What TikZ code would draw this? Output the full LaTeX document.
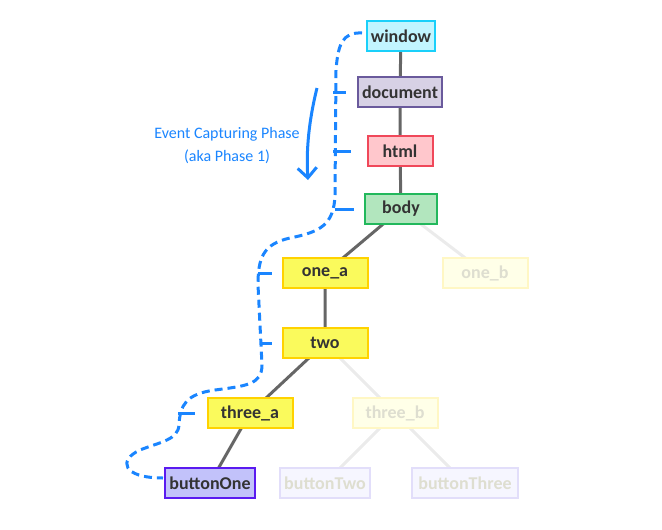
\documentclass[tikz,border=0pt]{standalone}
\usepackage{fontspec}
\setmainfont{Carlito}
\usetikzlibrary{arrows.meta, backgrounds}

\definecolor{edgegray}{HTML}{666666}
\definecolor{fadegray}{HTML}{EBEBEB}
\definecolor{phaseblue}{HTML}{1A85FF}
\definecolor{inkgray}{HTML}{333333}
\definecolor{winfill}{HTML}{C2F5FF}
\definecolor{windraw}{HTML}{1AD0FA}
\definecolor{docfill}{HTML}{D7D1E5}
\definecolor{docdraw}{HTML}{6A5A9C}
\definecolor{htmlfill}{HTML}{FFC7CC}
\definecolor{htmldraw}{HTML}{F0485A}
\definecolor{bodyfill}{HTML}{B2E6BE}
\definecolor{bodydraw}{HTML}{22B85C}
\definecolor{yelfill}{HTML}{FAFA5C}
\definecolor{yeldraw}{HTML}{FFD200}
\definecolor{btnfill}{HTML}{C2C2FA}
\definecolor{btndraw}{HTML}{5A1AF0}
\definecolor{fadeyelfill}{HTML}{FFFFE8}
\definecolor{fadeyeldraw}{HTML}{FFF7C4}
\definecolor{fadebtnfill}{HTML}{F6F6FF}
\definecolor{fadebtndraw}{HTML}{E2DEFA}
\definecolor{fadetext}{HTML}{DEDED0}

\tikzset{
    elem/.style={rectangle, line width=2pt, minimum height=30pt, inner xsep=4pt,
        font=\fontsize{18}{18}\selectfont\bfseries, text=inkgray},
    lowelem/.style={elem, minimum width=85pt},
    link/.style={edgegray, line width=3pt},
    fadelink/.style={fadegray, line width=3pt},
    phase/.style={phaseblue, line width=3pt, dash pattern=on 8pt off 5pt},
    tick/.style={phaseblue, line width=3pt},
}

\begin{document}
\begin{tikzpicture}[x=1pt, y=-1pt]

            \useasboundingbox (0,0) rectangle (662,530);

            % the tree
            \node[elem, fill=winfill, draw=windraw] (window) at (401,36) {window};
            \node[elem, fill=docfill, draw=docdraw] (document) at (400,92) {document};
            \node[elem, fill=htmlfill, draw=htmldraw, minimum width=65pt] (html) at (400,151) {html};
            \node[elem, fill=bodyfill, draw=bodydraw, minimum width=72pt] (body) at (401,209) {body};
            \node[lowelem, fill=yelfill, draw=yeldraw] (onea) at (325,273) {one\_a};
            \node[lowelem, fill=fadeyelfill, draw=fadeyeldraw, text=fadetext] (oneb) at (485,273) {one\_b};
            \node[lowelem, fill=yelfill, draw=yeldraw] (two) at (325,343) {two};
            \node[lowelem, fill=yelfill, draw=yeldraw] (threea) at (250,413) {three\_a};
            \node[lowelem, fill=fadeyelfill, draw=fadeyeldraw, text=fadetext] (threeb) at (395,413) {three\_b};
            \node[lowelem, fill=btnfill, draw=btndraw] (btnone) at (210,483) {buttonOne};
            \node[lowelem, fill=fadebtnfill, draw=fadebtndraw, text=fadetext] (btntwo) at (325,483) {buttonTwo};
            \node[lowelem, fill=fadebtnfill, draw=fadebtndraw, text=fadetext, minimum width=106pt] (btnthree) at (465,483) {buttonThree};

            % edges, drawn under the boxes
            \begin{scope}[on background layer]
                \draw[link] (window.center) -- (document.center) -- (html.center) -- (body.center)
                    -- (onea.center) -- (two.center) -- (threea.center) -- (btnone.center);
                \draw[fadelink] (body.center) -- (oneb.center);
                \draw[fadelink] (two.center) -- (threeb.center);
                \foreach \leaf in {btntwo, btnthree}
                {
                    \draw[fadelink] (threeb.center) -- (\leaf.center);
                }
            \end{scope}

            % capturing path
            \draw[phase] (362,33) .. controls (342,32) and (338,45) .. (336,70)
                -- (335,195)
                .. controls (334,225) and (320,232) .. (290,238)
                .. controls (263,244) and (258,258) .. (258,285)
                -- (262,365)
                .. controls (262,385) and (245,386) .. (215,390)
                .. controls (186,394) and (180,405) .. (179,425)
                .. controls (178,440) and (160,442) .. (140,450)
                .. controls (118,460) and (122,478) .. (163,478);

            \draw[tick] (333,0 |- document.west) -- ([xshift=-11pt]document.west);
            \draw[tick] (333,0 |- html.west) -- ([xshift=-16pt]html.west);
            \draw[tick] (335,0 |- body.west) -- ([xshift=-10pt]body.west);
            \draw[tick] (258,0 |- onea.west) -- ([xshift=-10pt]onea.west);
            \draw[tick] (261,0 |- two.west) -- ([xshift=-10pt]two.west);
            \draw[tick] (178,0 |- threea.west) -- ([xshift=-12pt]threea.west);

            \draw[phaseblue, line width=3pt, -{Straight Barb[length=10pt, width=19pt]}]
                (317,88) .. controls (309,120) and (306,150) .. (308,180);

            \node[phaseblue, align=center, font=\fontsize{16}{23}\selectfont] (label) at (227,146)
                {Event Capturing Phase\\(aka Phase 1)};

\end{tikzpicture}
\end{document}
